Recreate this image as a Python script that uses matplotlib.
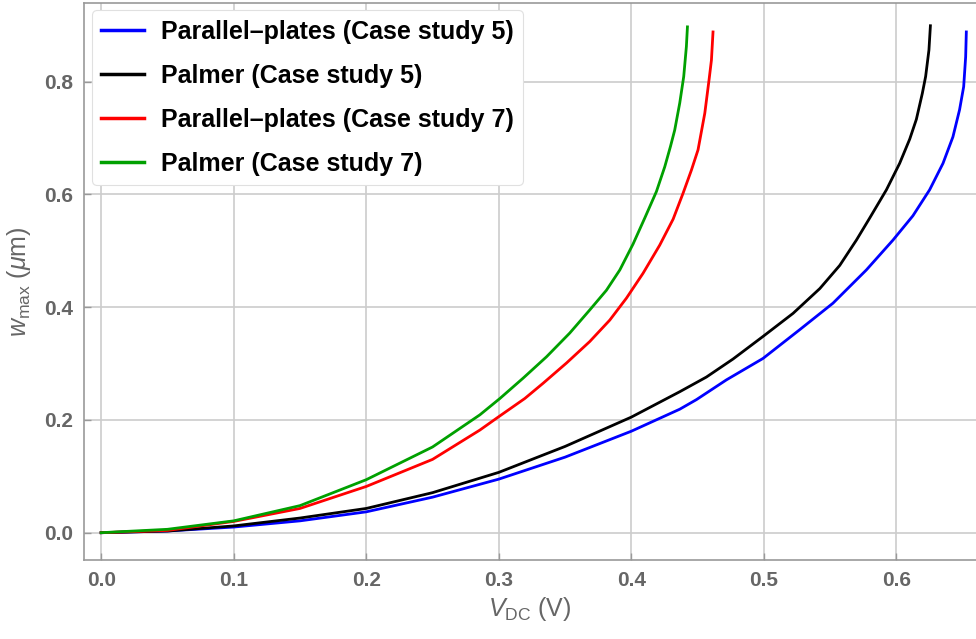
import matplotlib
matplotlib.use("Agg")
import matplotlib.pyplot as plt

# --- Dados (V_DC em volts, w_max em micrômetros) ----------------------------
V_PP5 = [0, 0.05, 0.10, 0.15, 0.20, 0.25, 0.30, 0.35, 0.40, 0.4365, 0.4491,
         0.4717, 0.4993, 0.5270, 0.5521, 0.5773, 0.5974, 0.6124, 0.6250,
         0.6351, 0.6426, 0.6476, 0.6507, 0.6522, 0.6527]
W_PP5 = [0, 0.003, 0.010, 0.021, 0.037, 0.063, 0.095, 0.134, 0.180, 0.219,
         0.236, 0.271, 0.309, 0.360, 0.407, 0.466, 0.519, 0.562, 0.608,
         0.655, 0.702, 0.750, 0.791, 0.844, 0.888]

V_PA5 = [0, 0.05, 0.10, 0.15, 0.20, 0.25, 0.30, 0.35, 0.40, 0.4365, 0.4566,
         0.4767, 0.4993, 0.5220, 0.5422, 0.5572, 0.5698, 0.5798, 0.5924,
         0.6024, 0.6100, 0.6150, 0.6195, 0.6220, 0.6245, 0.6256]
W_PA5 = [0, 0.003, 0.012, 0.026, 0.043, 0.071, 0.107, 0.153, 0.205, 0.250,
         0.276, 0.308, 0.348, 0.389, 0.433, 0.474, 0.519, 0.558, 0.608,
         0.655, 0.698, 0.733, 0.779, 0.809, 0.856, 0.899]

V_PP7 = [0, 0.05, 0.10, 0.15, 0.20, 0.25, 0.2857, 0.2983, 0.3196, 0.3334,
         0.3511, 0.3686, 0.3837, 0.3963, 0.4088, 0.4214, 0.4315, 0.4390,
         0.4453, 0.4503, 0.4554, 0.4586, 0.4604, 0.4616]
W_PP7 = [0, 0.004, 0.020, 0.043, 0.082, 0.130, 0.182, 0.203, 0.238, 0.265,
         0.301, 0.339, 0.377, 0.416, 0.460, 0.510, 0.556, 0.602, 0.643,
         0.679, 0.744, 0.803, 0.838, 0.888]

V_PA7 = [0, 0.05, 0.10, 0.15, 0.20, 0.25, 0.2857, 0.3008, 0.3183, 0.3360,
         0.3535, 0.3686, 0.3812, 0.3913, 0.4013, 0.4101, 0.4189, 0.4252,
         0.4295, 0.4327, 0.4365, 0.4395, 0.4415, 0.4423]
W_PA7 = [0, 0.006, 0.021, 0.048, 0.094, 0.152, 0.209, 0.238, 0.274, 0.312,
         0.354, 0.395, 0.430, 0.466, 0.512, 0.558, 0.605, 0.649, 0.685,
         0.714, 0.762, 0.809, 0.862, 0.897]

SERIES = [
    ("Parallel–plates (Case study 5)", "#0000ff", V_PP5, W_PP5),
    ("Palmer (Case study 5)", "#000000", V_PA5, W_PA5),
    ("Parallel–plates (Case study 7)", "#ff0000", V_PP7, W_PP7),
    ("Palmer (Case study 7)", "#00a000", V_PA7, W_PA7),
]

X_TICKS = [0.0, 0.1, 0.2, 0.3, 0.4, 0.5, 0.6]
Y_TICKS = [0.0, 0.2, 0.4, 0.6, 0.8]

plt.rcParams["font.family"] = ["Liberation Sans", "DejaVu Sans"]
plt.rcParams["mathtext.fontset"] = "custom"
plt.rcParams["mathtext.it"] = "Liberation Sans:italic"
plt.rcParams["mathtext.rm"] = "Liberation Sans"

CINZA = "#666666"

fig = plt.figure(figsize=(9.76, 6.39), dpi=100)
ax = fig.add_axes([0.086, 0.124, 0.914, 0.871])

for nome, cor, v, w in SERIES:
    ax.plot(v, w, color=cor, linewidth=2.0, label=nome,
            solid_joinstyle="round")

ax.set_xlim(-0.013, 0.660)
ax.set_ylim(-0.048, 0.939)
ax.set_xticks(X_TICKS)
ax.set_yticks(Y_TICKS)
ax.set_xticklabels([f"{t:.1f}" for t in X_TICKS])
ax.set_yticklabels([f"{t:.1f}" for t in Y_TICKS])
ax.tick_params(direction="in", length=5, width=1, color="#999999",
               labelsize=15, labelcolor=CINZA, pad=8)
for lab in ax.get_xticklabels() + ax.get_yticklabels():
    lab.set_fontweight("bold")

ax.grid(True, color="#cccccc", linewidth=1.2)
ax.set_axisbelow(True)
for lado in ["left", "bottom", "top"]:
    ax.spines[lado].set_color("#999999")
    ax.spines[lado].set_linewidth(1.2)
ax.spines["right"].set_visible(False)

ax.set_xlabel(r"$V_{\mathrm{DC}}$ (V)", fontsize=18, color=CINZA, labelpad=4)
ax.set_ylabel(r"$w_{\mathrm{max}}$ ($\mu$m)", fontsize=18, color=CINZA,
              labelpad=8)

leg = ax.legend(loc="upper left", bbox_to_anchor=(0.009, 0.987),
                prop={"size": 18, "weight": "bold"}, frameon=True,
                fancybox=True, edgecolor="#e0e0e0", handlelength=1.7,
                handletextpad=0.68, labelspacing=0.8, borderpad=0.38,
                borderaxespad=0.0, framealpha=1.0)
leg.get_frame().set_linewidth(0.8)
for linha in leg.get_lines():
    linha.set_linewidth(2.5)

fig.savefig("out.png", dpi=100)
